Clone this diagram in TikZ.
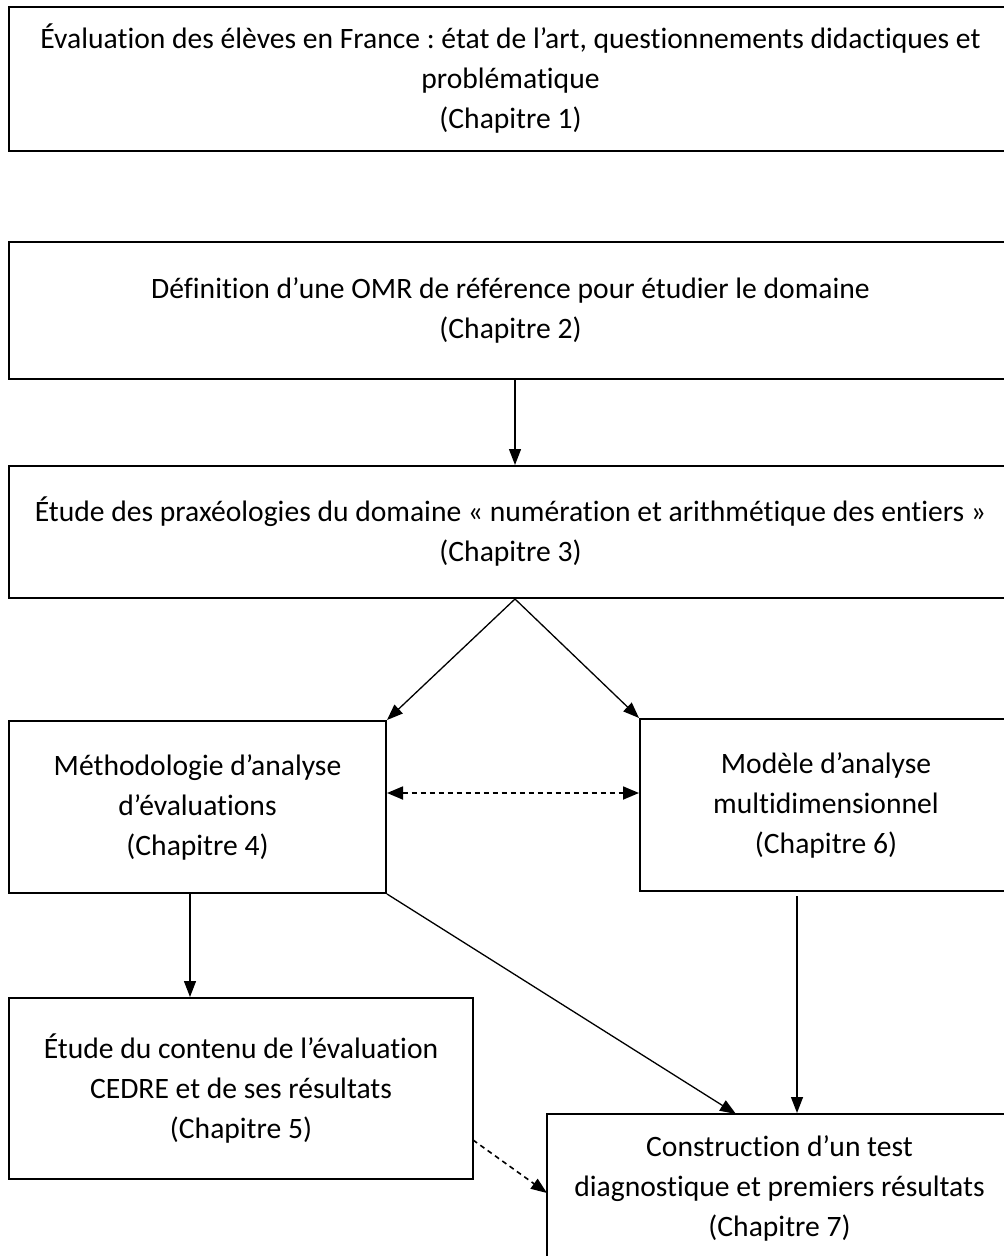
\documentclass[tikz,border=0pt]{standalone}
\usepackage{fontspec}
\setmainfont{Carlito}[Ligatures=NoCommon]
\frenchspacing
\usetikzlibrary{arrows.meta}
\begin{document}
\begin{tikzpicture}[x=0.5pt,y=-0.5pt,
  box/.style={draw, line width=1pt, rectangle, inner sep=0pt, align=center,
    font=\fontsize{14.8}{20}\selectfont},
  arr/.style={line width=0.65pt, -{Triangle[length=8pt,width=6pt]}},
  darr/.style={line width=0.8pt, dash pattern=on 2.5pt off 2pt, -{Triangle[length=8pt,width=6pt]}},
  ddarr/.style={line width=0.9pt, dash pattern=on 2.5pt off 2pt, {Triangle[length=8pt,width=6.5pt]}-{Triangle[length=8pt,width=6.5pt]}}]
\useasboundingbox (0,0) rectangle (1003,1256);
\node[box, minimum width=501.5pt, minimum height=72pt] (b1) at (510.5,79)
  {Évaluation des élèves en France : état de l’art, questionnements didactiques et\\ problématique\\ (Chapitre 1)};
\node[box, minimum width=501.5pt, minimum height=68.5pt] (b2) at (510.5,310.5)
  {Définition d’une OMR de référence pour étudier le domaine\\ (Chapitre 2)};
\node[box, minimum width=501.5pt, minimum height=66pt] (b3) at (510.5,532)
  {Étude des praxéologies du domaine « numération et arithmétique des entiers »\\ (Chapitre 3)};
\node[box, minimum width=188.5pt, minimum height=86pt] (b4) at (197.5,807)
  {Méthodologie d’analyse\\ d’évaluations\\ (Chapitre 4)};
\node[box, minimum width=186pt, minimum height=86pt] (b6) at (826,805)
  {Modèle d’analyse\\ multidimensionnel\\ (Chapitre 6)};
\node[box, minimum width=232pt, minimum height=90.5pt] (b5) at (241,1088.5)
  {Étude du contenu de l’évaluation\\ CEDRE et de ses résultats\\ (Chapitre 5)};
\node[box, minimum width=232.5pt, minimum height=74pt] (b7) at (779.5,1188)
  {Construction d’un test\\ diagnostique et premiers résultats\\ (Chapitre 7)};
\coordinate (cx) at (515,0);
\coordinate (lx) at (190,0);
\coordinate (rx) at (797,0);
\coordinate (dy) at (0,793);
\coordinate (t7) at (736,1114);
\coordinate (s5) at (473,1140);
\coordinate (e7) at (547,1193);
\draw[arr] (b2.south -| cx) -- (b3.north -| cx);
\draw[arr] (b3.south -| cx) -- (b4.north east);
\draw[arr] (b3.south -| cx) -- (b6.north west);
\draw[ddarr] (b4.east |- dy) -- (b6.west |- dy);
\draw[arr] (b4.south -| lx) -- (b5.north -| lx);
\draw[arr] (b4.south east) -- (t7);
\draw[arr] ([yshift=-2pt]b6.south -| rx) -- (b7.north -| rx);
\draw[darr] (s5) -- (e7);
\end{tikzpicture}
\end{document}
